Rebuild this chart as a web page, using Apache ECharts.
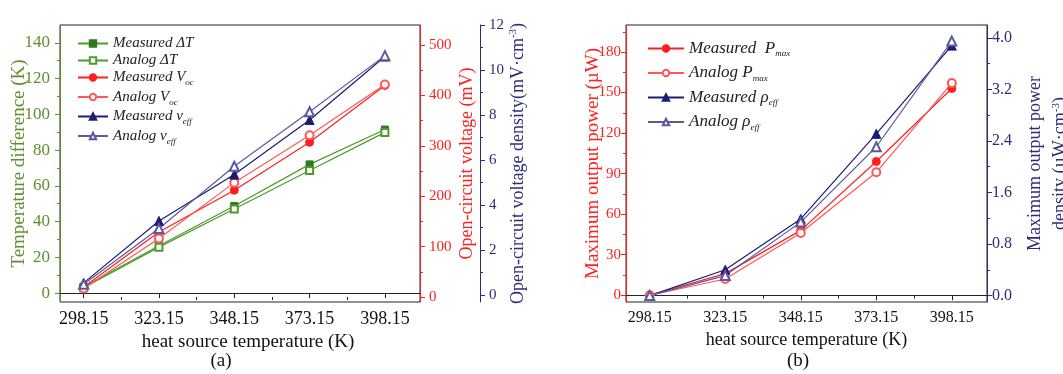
<!DOCTYPE html>
<html>
<head>
<meta charset="utf-8">
<script src="https://cdn.jsdelivr.net/npm/echarts@6/dist/echarts.min.js"></script>
<style>
  html, body { margin: 0; padding: 0; background: #fff; }
  #chart { width: 1063px; height: 374px; }
</style>
</head>
<body>
<div id="chart"></div>
<script>
// heat source temperature (K)
var temps = [298.15, 323.15, 348.15, 373.15, 398.15];
var tempMinor = [310.65, 335.65, 360.65, 385.65];

// (a) temperature difference, open-circuit voltage, voltage density
var dTMeasured = [3.5, 26.5, 48.7, 72.0, 91.5];
var dTAnalog = [3.0, 25.7, 47.0, 68.6, 89.9];
var vocMeasured = [20, 129, 212, 307, 420];
var vocAnalog = [17, 116, 227, 321, 422];
var veffMeasured = [0.55, 3.30, 5.36, 7.78, 10.60];
var veffAnalog = [0.49, 2.96, 5.73, 8.15, 10.64];

// (b) maximum output power and power density
var pMeasured = [0, 16, 48, 99, 153];
var pAnalog = [0, 12, 46, 91, 157];
var rhoMeasured = [0, 0.40, 1.19, 2.51, 3.88];
var rhoAnalog = [0, 0.31, 1.14, 2.31, 3.95];

// tick labels
var dTTicks = [0, 20, 40, 60, 80, 100, 120, 140];
var dTMinor = [10, 30, 50, 70, 90, 110, 130];
var vocTicks = [0, 100, 200, 300, 400, 500];
var vocMinor = [50, 150, 250, 350, 450];
var veffTicks = [0, 2, 4, 6, 8, 10, 12];
var veffMinor = [1, 3, 5, 7, 9, 11];
var pTicks = [0, 30, 60, 90, 120, 150, 180];
var pMinor = [15, 45, 75, 105, 135, 165, 195];
var rhoTicks = [0, 0.8, 1.6, 2.4, 3.2, 4.0];
var rhoMinor = [0.4, 1.2, 2.0, 2.8, 3.6];

var serif = 'Liberation Serif';
var GREEN = '#4f9a2c', GREEN_DARK = '#2f7a1c', GREEN_AXIS = '#5e8f2e';
var RED = '#ff1f1f', RED_LIGHT = '#ff5757';
var NAVY = '#1c1c78', NAVY_LIGHT = '#5a5aa2', NAVY_AXIS = '#2c2c78';
var X_MIN = 290.3, X_MAX = 409.8;

function pts(ys) {
  return temps.map(function (t, i) { return [t, ys[i]]; });
}

function xMajor(grid, labelSize, nameSize, pad) {
  return {
    type: 'value', gridIndex: grid, position: 'bottom', min: X_MIN, max: X_MAX,
    axisLine: { lineStyle: { color: '#222', width: 1 } },
    axisTick: { show: true, customValues: temps, length: 5, lineStyle: { color: '#222' } },
    axisLabel: {
      customValues: temps, margin: 8, color: '#111', fontFamily: serif, fontSize: labelSize,
      formatter: function (v) { return v.toFixed(2); }
    },
    splitLine: { show: false },
    name: 'heat source temperature (K)', nameLocation: 'middle', nameGap: 27,
    nameTextStyle: { fontFamily: serif, fontSize: nameSize, color: '#111', padding: pad }
  };
}
function xMinor(grid) {
  return {
    type: 'value', gridIndex: grid, position: 'bottom', min: X_MIN, max: X_MAX,
    axisLine: { show: false }, axisLabel: { show: false }, splitLine: { show: false },
    axisTick: { show: true, customValues: tempMinor, length: 3, lineStyle: { color: '#222' } }
  };
}

function yMajor(c) {
  return {
    type: 'value', gridIndex: c.grid, position: c.pos, offset: c.offset || 0,
    min: c.min, max: c.max,
    axisLine: { show: true, lineStyle: { color: c.color, width: 1 } },
    axisTick: { show: true, customValues: c.ticks, length: 5, lineStyle: { color: c.color } },
    axisLabel: {
      customValues: c.ticks, margin: c.margin, color: c.color, fontFamily: serif,
      fontSize: c.labelSize, formatter: c.fmt
    },
    splitLine: { show: false },
    name: c.name, nameLocation: 'middle', nameGap: c.nameGap, nameRotate: 90,
    nameMoveOverlap: false,
    nameTextStyle: {
      color: c.nameColor || c.color, fontFamily: serif, fontSize: c.nameSize, lineHeight: c.nameLH,
      rich: { sup: { fontFamily: serif, fontSize: 11, color: c.nameColor || c.color, padding: [0, 0, 9, 0] } }
    }
  };
}
function yMinor(c, minors) {
  return {
    type: 'value', gridIndex: c.grid, position: c.pos, offset: c.offset || 0,
    min: c.min, max: c.max,
    axisLine: { show: false }, axisLabel: { show: false }, splitLine: { show: false },
    axisTick: { show: true, customValues: minors, length: 3, lineStyle: { color: c.color } }
  };
}

var intFmt = function (v) { return String(Math.round(v)); };
var oneFmt = function (v) { return v.toFixed(1); };

var yGreen = { grid: 0, pos: 'left', min: -5, max: 150, ticks: dTTicks, color: GREEN_AXIS, margin: 10,
  labelSize: 17, fmt: intFmt, name: 'Temperature difference (K)', nameGap: 31, nameSize: 19 };
var yRed = { grid: 0, pos: 'right', min: -10, max: 540, ticks: vocTicks, color: RED, margin: 9,
  labelSize: 15, fmt: intFmt, name: 'Open-circuit voltage (mV)', nameGap: 38, nameSize: 18 };
var yBlue = { grid: 0, pos: 'right', offset: 60, min: -0.3, max: 12, ticks: veffTicks, color: NAVY_AXIS, margin: 9,
  labelSize: 15, fmt: intFmt, name: 'Open-circuit voltage density(mV·cm{sup|-3})', nameGap: 28, nameSize: 18 };
var yRed2 = { grid: 1, pos: 'left', min: -5, max: 200, ticks: pTicks, color: RED, margin: 5,
  labelSize: 15, fmt: intFmt, name: 'Maximum output power (µW)', nameGap: 23, nameSize: 19 };
var yBlue2 = { grid: 1, pos: 'right', min: -0.1, max: 4.2, ticks: rhoTicks, color: NAVY_AXIS, margin: 5,
  labelSize: 16, fmt: oneFmt, name: 'Maximum output power\ndensity (µW·cm{sup|-3})', nameGap: 36,
  nameSize: 18, nameLH: 25 };

function lineSeries(name, xi, yi, data, symbol, size, color, lineColor) {
  return {
    name: name, type: 'line', xAxisIndex: xi, yAxisIndex: yi, data: pts(data),
    symbol: symbol, symbolSize: size, showSymbol: true,
    itemStyle: { color: color, borderColor: color, borderWidth: 1 },
    lineStyle: { color: lineColor, width: 1.2 },
    emphasis: { disabled: true }, animation: false
  };
}

var legendNames = {
  'Measured ΔT': 'Measured ΔT',
  'Analog ΔT': 'Analog ΔT',
  'Measured Voc': 'Measured V{sub|oc}',
  'Analog Voc': 'Analog V{sub|oc}',
  'Measured veff': 'Measured v{sub|eff}',
  'Analog veff': 'Analog v{sub|eff}',
  'Measured Pmax': 'Measured  P{sub|max}',
  'Analog Pmax': 'Analog P{sub|max}',
  'Measured ρeff': 'Measured ρ{sub|eff}',
  'Analog ρeff': 'Analog ρ{sub|eff}'
};
function legendText(size) {
  return {
    fontFamily: serif, fontStyle: 'italic', fontSize: size, color: '#222',
    rich: { sub: { fontFamily: serif, fontStyle: 'italic', fontSize: 9, color: '#222', padding: [11, 0, 0, 0] } }
  };
}

var chart = echarts.init(document.getElementById('chart'), null, { renderer: 'canvas' });
chart.setOption({
  backgroundColor: '#fff',
  animation: false,
  grid: [
    { left: 60, right: 643, top: 25, bottom: 72, outerBoundsMode: 'none', show: true, borderColor: '#222', borderWidth: 1, backgroundColor: 'transparent' },
    { left: 626, right: 76, top: 25, bottom: 72, outerBoundsMode: 'none', show: true, borderColor: '#222', borderWidth: 1, backgroundColor: 'transparent' }
  ],
  xAxis: [xMajor(0, 18, 19, [0, 0, 0, 16]), xMajor(1, 16, 18, 0), xMinor(0), xMinor(1)],
  yAxis: [
    yMajor(yGreen), yMajor(yRed), yMajor(yBlue), yMajor(yRed2), yMajor(yBlue2),
    yMinor(yGreen, dTMinor), yMinor(yRed, vocMinor), yMinor(yBlue, veffMinor),
    yMinor(yRed2, pMinor), yMinor(yBlue2, rhoMinor)
  ],
  legend: [
    {
      data: ['Measured ΔT', 'Analog ΔT', 'Measured Voc', 'Analog Voc', 'Measured veff', 'Analog veff'],
      left: 72, top: 31, orient: 'vertical', itemGap: 2, itemWidth: 30, itemHeight: 8,
      textStyle: legendText(15), formatter: function (n) { return legendNames[n]; }
    },
    {
      data: ['Measured Pmax', 'Analog Pmax', 'Measured ρeff', 'Analog ρeff'],
      left: 642, top: 35, orient: 'vertical', itemGap: 6, itemWidth: 36, itemHeight: 8,
      textStyle: legendText(17), formatter: function (n) { return legendNames[n]; }
    }
  ],
  graphic: [
    { type: 'text', x: 221, y: 361, style: { text: '(a)', font: '19px "Liberation Serif"', fill: '#111', align: 'center', verticalAlign: 'middle', textAlign: 'center', textVerticalAlign: 'middle' } },
    { type: 'text', x: 798, y: 361, style: { text: '(b)', font: '19px "Liberation Serif"', fill: '#111', align: 'center', verticalAlign: 'middle', textAlign: 'center', textVerticalAlign: 'middle' } }
  ],
  series: [
    lineSeries('Measured ΔT', 0, 0, dTMeasured, 'rect', 7, GREEN_DARK, GREEN),
    lineSeries('Analog ΔT', 0, 0, dTAnalog, 'emptyRect', 7, GREEN, GREEN),
    lineSeries('Measured Voc', 0, 1, vocMeasured, 'circle', 8, RED, RED),
    lineSeries('Analog Voc', 0, 1, vocAnalog, 'emptyCircle', 8, RED_LIGHT, RED_LIGHT),
    lineSeries('Measured veff', 0, 2, veffMeasured, 'triangle', 9, NAVY, NAVY),
    lineSeries('Analog veff', 0, 2, veffAnalog, 'emptyTriangle', 9, NAVY_LIGHT, NAVY_LIGHT),
    lineSeries('Measured Pmax', 1, 3, pMeasured, 'circle', 8, RED, RED),
    lineSeries('Analog Pmax', 1, 3, pAnalog, 'emptyCircle', 8, RED_LIGHT, RED_LIGHT),
    lineSeries('Measured ρeff', 1, 4, rhoMeasured, 'triangle', 9, NAVY, NAVY),
    lineSeries('Analog ρeff', 1, 4, rhoAnalog, 'emptyTriangle', 9, NAVY_LIGHT, NAVY_LIGHT)
  ]
});
</script>
</body>
</html>
